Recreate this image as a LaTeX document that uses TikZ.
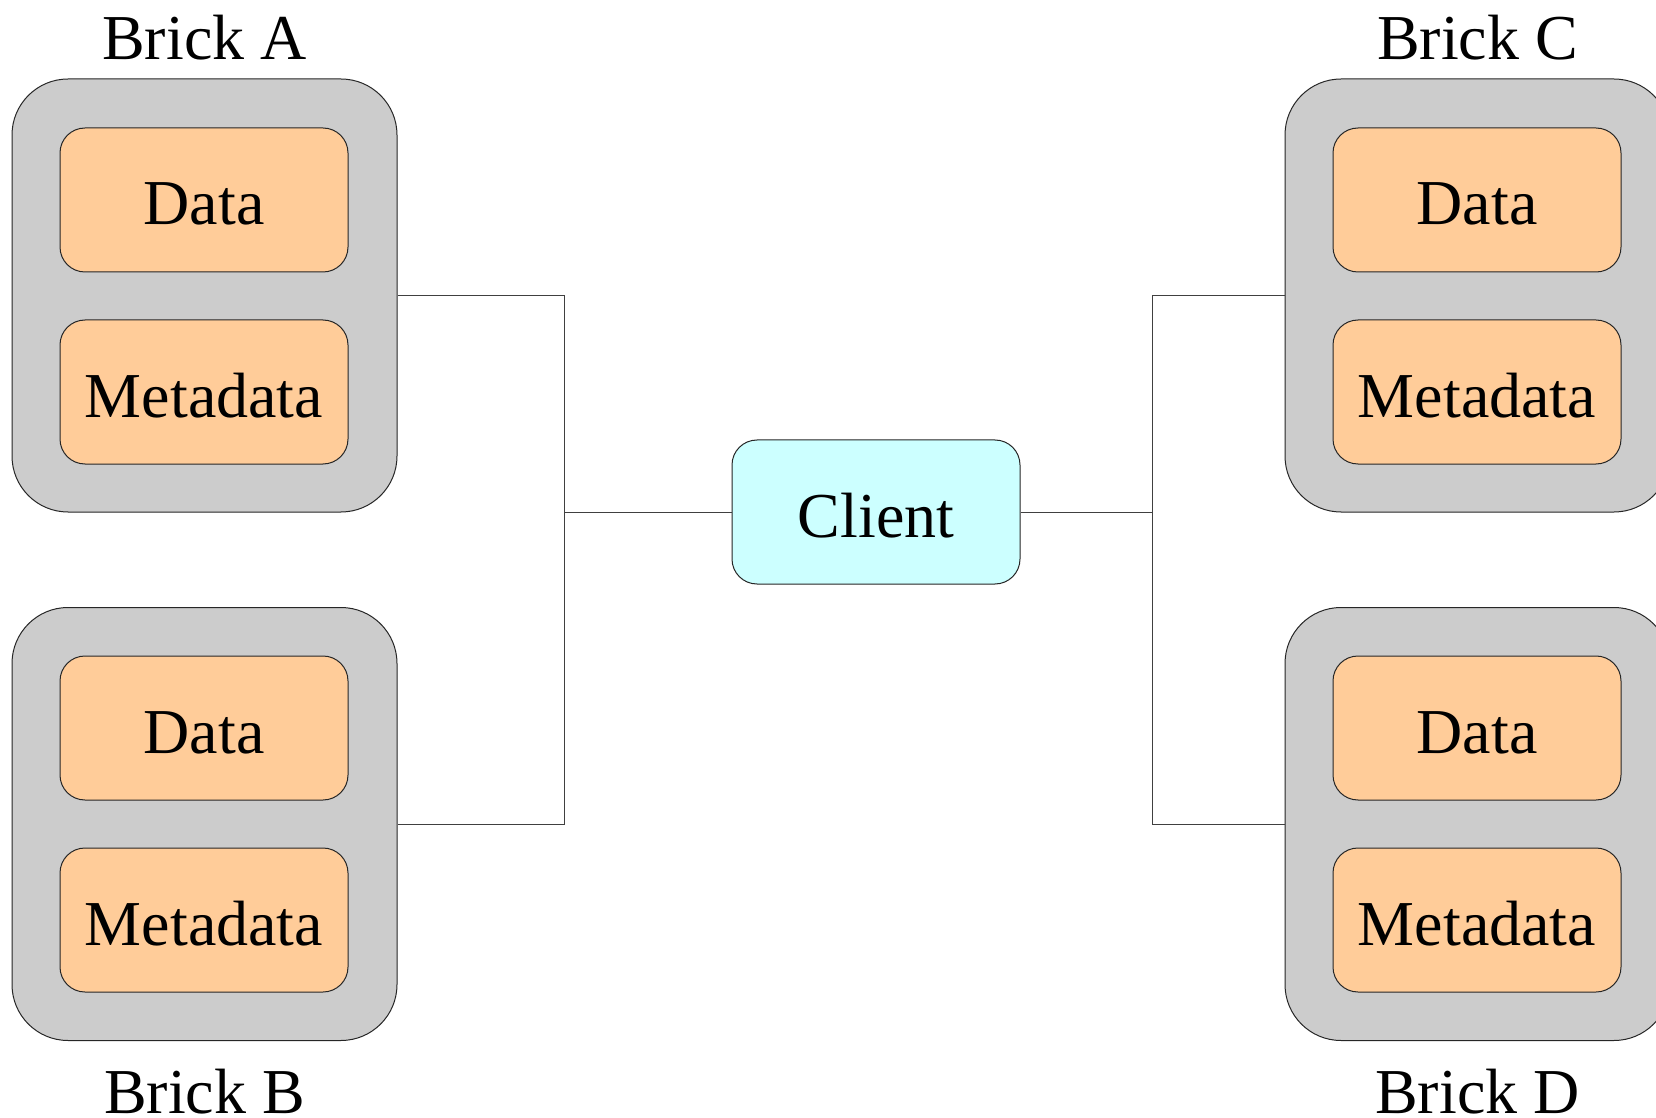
\documentclass[tikz,border=0pt]{standalone}
\usepackage{fontspec}
\setmainfont{Liberation Serif}
\usetikzlibrary{positioning, calc}
\definecolor{brickgray}{HTML}{CCCCCC}
\definecolor{partorange}{HTML}{FFCC99}
\definecolor{clientcyan}{HTML}{CCFFFF}
\tikzset{
  brick/.style={draw=black!85, fill=brickgray, rounded corners=28pt,
                minimum width=192.5pt, minimum height=216.5pt, inner sep=0pt,
                line width=0.5pt},
  part/.style={draw=black!85, fill=partorange, rounded corners=12.5pt,
               minimum width=144pt, minimum height=72pt, inner sep=0pt,
               text height=25pt, text depth=0pt,
               line width=0.5pt, font=\fontsize{32}{38}\selectfont},
  client/.style={part, fill=clientcyan},
  lbl/.style={anchor=base, inner sep=0pt, font=\fontsize{32}{38}\selectfont},
  wire/.style={line width=0.5pt, draw=black!75},
}

\begin{document}
\begin{tikzpicture}[x=0.5pt, y=-0.5pt]
  \useasboundingbox (0,0) rectangle (1656,1118);

  % ---------- left bricks ----------
  \node[brick] (brickA) at (204.5, 295.5) {};
  \node[part] (dataA) at (204, 200) {Data};
  \node[part] (metaA) at (204, 392) {Metadata};
  \node[lbl] (labA) at (204.5, 60) {Brick A};

  \node[brick] (brickB) at (204.5, 824) {};
  \node[part] (dataB) at (204, 728) {Data};
  \node[part] (metaB) at (204, 920) {Metadata};
  \node[lbl] (labB) at (204.5, 1113) {Brick B};

  % ---------- right bricks (run off the page edge) ----------
  \node[brick] (brickC) at (1477.5, 295.5) {};
  \node[part] (dataC) at (1477, 200) {Data};
  \node[part] (metaC) at (1477, 392) {Metadata};
  \node[lbl] (labC) at (1477.5, 60) {Brick C};

  \node[brick] (brickD) at (1477.5, 824) {};
  \node[part] (dataD) at (1477, 728) {Data};
  \node[part] (metaD) at (1477, 920) {Metadata};
  \node[lbl] (labD) at (1477.5, 1113) {Brick D};

  % ---------- client ----------
  \node[client] (client) at (876, 512) {Client};

  % ---------- wiring ----------
  \coordinate (topL) at (564, 295.5);
  \coordinate (midL) at (564, 512);
  \coordinate (botL) at (564, 824);
  \coordinate (topR) at (1152, 295.5);
  \coordinate (midR) at (1152, 512);
  \coordinate (botR) at (1152, 824);

  \draw[wire] (brickA.east) -- (topL) -- (botL) -- (brickB.east);
  \draw[wire] (midL) -- (client.west);
  \draw[wire] (brickC.west) -- (topR) -- (botR) -- (brickD.west);
  \draw[wire] (client.east) -- (midR);

\end{tikzpicture}
\end{document}
